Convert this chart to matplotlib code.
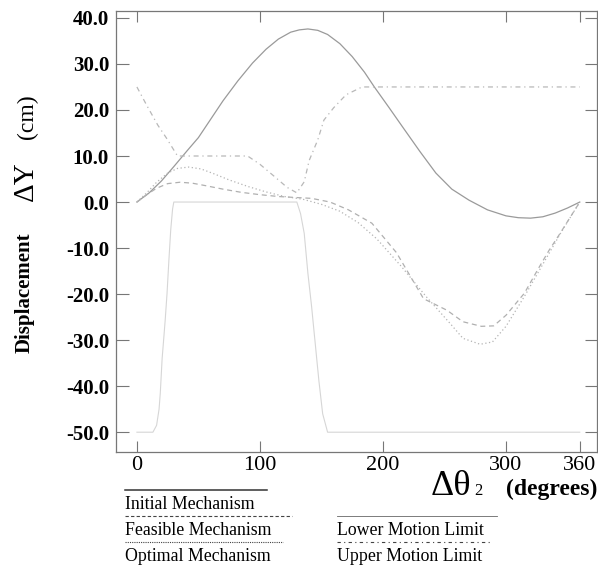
import numpy as np
import matplotlib
matplotlib.use('Agg')
import matplotlib.pyplot as plt

plt.rcParams['font.family'] = ['Liberation Serif', 'DejaVu Serif']

# crank angle (deg) vs output displacement (cm)
init_x = [0, 10, 20, 30, 41, 50, 60, 70, 82, 94, 105, 115, 125, 132, 139, 147, 155, 165,
          175, 185, 193, 205, 216, 230, 243, 256, 270, 285, 300, 310, 320, 330, 340, 350, 360]
init_y = [0, 2.0, 4.6, 7.7, 11.2, 14.0, 18.0, 22.0, 26.3, 30.2, 33.2, 35.4, 36.9, 37.4, 37.6,
          37.3, 36.4, 34.4, 31.6, 28.2, 25.0, 20.5, 16.3, 11.0, 6.3, 2.8, 0.4, -1.7, -3.0, -3.4,
          -3.5, -3.2, -2.4, -1.3, 0.0]

feas_x = [0, 8, 16, 25, 35, 45, 55, 70, 85, 100, 115, 128, 142, 157, 172, 191, 211, 233,
          252, 265, 280, 290, 300, 315, 326, 335, 344, 352, 360]
feas_y = [0, 1.6, 3.0, 4.0, 4.3, 4.1, 3.6, 2.8, 2.1, 1.6, 1.2, 1.0, 0.8, 0.0, -1.7, -4.6,
          -11.0, -21.0, -23.5, -26.0, -27.0, -26.9, -24.6, -19.8, -14.6, -10.5, -6.8, -3.4, 0]

opt_x = [0, 8, 16, 25, 33, 42, 52, 62, 75, 90, 105, 120, 135, 150, 165, 180, 195, 215,
         235, 255, 265, 279, 289, 300, 315, 330, 345, 360]
opt_y = [0, 2.0, 4.3, 6.3, 7.3, 7.6, 7.2, 6.2, 4.8, 3.4, 2.2, 1.2, 0.6, -0.5, -2.0, -4.5,
         -8.0, -14.0, -20.5, -26.5, -29.6, -30.9, -30.4, -27.0, -20.5, -13.5, -6.5, 0]

low_x = [0, 13, 16, 18, 19, 20.5, 22, 23, 24.5, 26, 27.5, 29, 30, 130, 133, 136, 139, 142,
         146, 148, 151, 155, 360]
low_y = [-50, -50, -48.5, -45, -41.5, -34, -29, -25.6, -19.8, -12.6, -6, -1.5, 0, 0, -2.5,
         -6.8, -15.5, -22.7, -33.6, -39, -46, -50, -50]

up_x = [0, 8, 17, 24, 30, 33, 90, 100, 112, 122, 130, 136, 140, 147, 152, 160, 170, 183, 360]
up_y = [25, 21, 16.7, 13.9, 11.3, 10, 10, 8.2, 5.5, 3.2, 2.0, 4.4, 9.0, 13.5, 17.8, 20.5,
        23.3, 25, 25]

xticks = [0, 100, 200, 300, 360]
yticks = [40, 30, 20, 10, 0, -10, -20, -30, -40, -50]

W, H = 598, 566
fig = plt.figure(figsize=(W / 100, H / 100), dpi=100)
ax = fig.add_axes([116 / W, 1 - 452 / H, (597 - 116) / W, (452 - 11) / H])

ax.plot(init_x, init_y, color='#9a9a9a', lw=0.9)
ax.plot(feas_x, feas_y, color='#b0b0b0', lw=0.9, linestyle=(0, (4, 3)))
ax.plot(opt_x, opt_y, color='#b4b4b4', lw=0.9, linestyle=(0, (1, 2)))
ax.plot(low_x, low_y, color='#d6d6d6', lw=0.8)
ax.plot(up_x, up_y, color='#b8b8b8', lw=0.9, linestyle=(0, (4, 3, 1, 3)))

ax.set_xlim(-17, 374)
ax.set_ylim(-54.3, 41.5)
ax.set_xticks(xticks)
ax.set_xticklabels([str(v) for v in xticks], fontsize=16)
ax.set_yticks(yticks)
ax.set_yticklabels(['%.1f' % v for v in yticks], fontsize=15, fontweight='bold')
ax.tick_params(direction='in', top=True, right=True, color='#777777', width=0.8)
ax.tick_params(axis='y', length=9, pad=5)
ax.tick_params(axis='x', length=8, pad=3)
for s in ax.spines.values():
    s.set_color('#777777')
    s.set_linewidth(0.9)

# axis titles and key, laid out in pixel units
ov = fig.add_axes([0, 0, 1, 1], zorder=-1)
ov.set_xlim(0, W)
ov.set_ylim(H, 0)
ov.axis('off')

ov.text(25, 293, 'Displacement', rotation=90, ha='center', va='center',
        fontsize=15, fontweight='bold')
ov.text(26, 181, 'ΔY', rotation=90, ha='center', va='center', fontsize=21)
ov.text(27, 117, '(cm)', rotation=90, ha='center', va='center', fontsize=17)

ov.text(471, 495, 'Δθ', ha='right', va='baseline', fontsize=26)
ov.text(474, 495, '2', ha='left', va='baseline', fontsize=12)
ov.text(597, 495, '(degrees)', ha='right', va='baseline', fontsize=17, fontweight='bold')

lf = 12.8
ov.plot([125, 267], [490, 490], color='#333333', lw=1.1)
ov.text(125, 509, 'Initial Mechanism', ha='left', va='baseline', fontsize=lf)
ov.plot([125, 292], [516, 516], color='#444444', lw=0.8, linestyle=(0, (3, 2)))
ov.text(125, 535, 'Feasible Mechanism', ha='left', va='baseline', fontsize=lf)
ov.plot([125, 283], [542, 542], color='#444444', lw=0.8, linestyle=(0, (1, 1)))
ov.text(125, 561, 'Optimal Mechanism', ha='left', va='baseline', fontsize=lf)

ov.plot([337, 497], [516, 516], color='#666666', lw=0.6)
ov.text(337, 535, 'Lower Motion Limit', ha='left', va='baseline', fontsize=lf)
ov.plot([337, 492], [542, 542], color='#444444', lw=0.8, linestyle=(0, (3, 3, 1, 3)))
ov.text(337, 561, 'Upper Motion Limit', ha='left', va='baseline', fontsize=lf)

fig.savefig('out.png', dpi=100)
